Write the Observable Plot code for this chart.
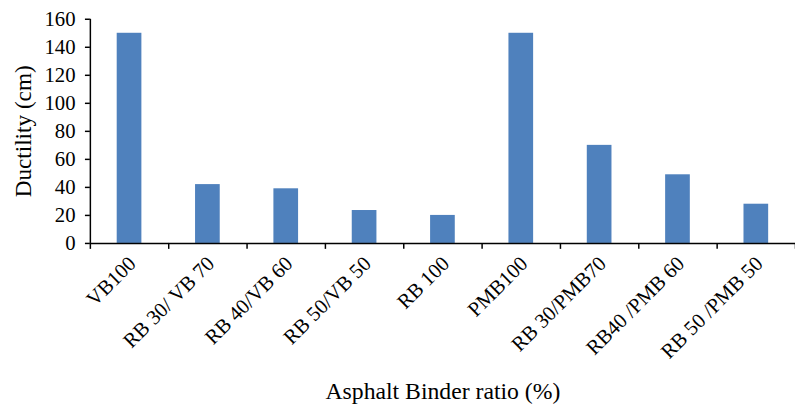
<!DOCTYPE html>
<html><head><meta charset="utf-8">
<script src="https://cdn.jsdelivr.net/npm/d3@7"></script>
<script src="https://cdn.jsdelivr.net/npm/@observablehq/plot@0.6"></script>
<style>html,body{margin:0;padding:0;overflow:hidden;background:#fff}</style>
</head><body><div id="chart"></div>
<script>
const categories = ["VB100", "RB 30/ VB 70", "RB 40/VB 60", "RB 50/VB 50", "RB 100", "PMB100", "RB 30/PMB70", "RB40 /PMB 60", "RB 50 /PMB 50"];
const ductility = [150, 42, 39, 23.5, 20, 150, 70, 49, 28];
const yTicks = [0, 20, 40, 60, 80, 100, 120, 140, 160];
const xTitle = "Asphalt Binder ratio (%)";
const yTitle = "Ductility (cm)";

const data = categories.map((c, i) => ({category: c, index: i, value: ductility[i]}));
const half = 0.1575;
const centers = categories.map((c, i) => i + 0.5);
const bounds = d3.range(categories.length + 1);

const chart = Plot.plot({
  width: 805, height: 410,
  marginLeft: 91, marginRight: 0, marginTop: 19, marginBottom: 164,
  style: {fontFamily: "'Liberation Serif', 'Times New Roman', serif", fontSize: "20px", color: "#000", background: "#fff", overflow: "visible"},
  x: {type: "linear", domain: [0, categories.length]},
  y: {domain: [0, 160]},
  marks: [
    Plot.rectY(data, {x1: d => d.index + 0.5 - half, x2: d => d.index + 0.5 + half, y1: 0, y2: "value", fill: "#4F81BD"}),
    Plot.axisY({ticks: yTicks, tickSize: 5, tickPadding: 10, label: null, fontSize: 21, strokeWidth: 1.5, tickFormat: d => d}),
    Plot.ruleX([0], {stroke: "#000", strokeWidth: 1.5}),
    Plot.ruleY([0], {stroke: "#000", strokeWidth: 1.5}),
    Plot.axisX({ticks: bounds, tickSize: 6, strokeWidth: 1.5, tickFormat: () => "", label: null}),
    Plot.axisX({ticks: centers, tickSize: 0, tickPadding: 17, dx: 3, tickRotate: -45, fontSize: 21, tickFormat: d => categories[Math.floor(d)], label: null}),
    Plot.text([xTitle], {text: d => d, x: 4.5, frameAnchor: "bottom", textAnchor: "middle", lineAnchor: "middle", dy: 150, fontSize: 24}),
    Plot.text([yTitle], {text: d => d, frameAnchor: "left", textAnchor: "middle", lineAnchor: "middle", dx: -68, rotate: -90, fontSize: 23.5})
  ]
});
document.getElementById("chart").append(chart);
</script>
</body></html>
